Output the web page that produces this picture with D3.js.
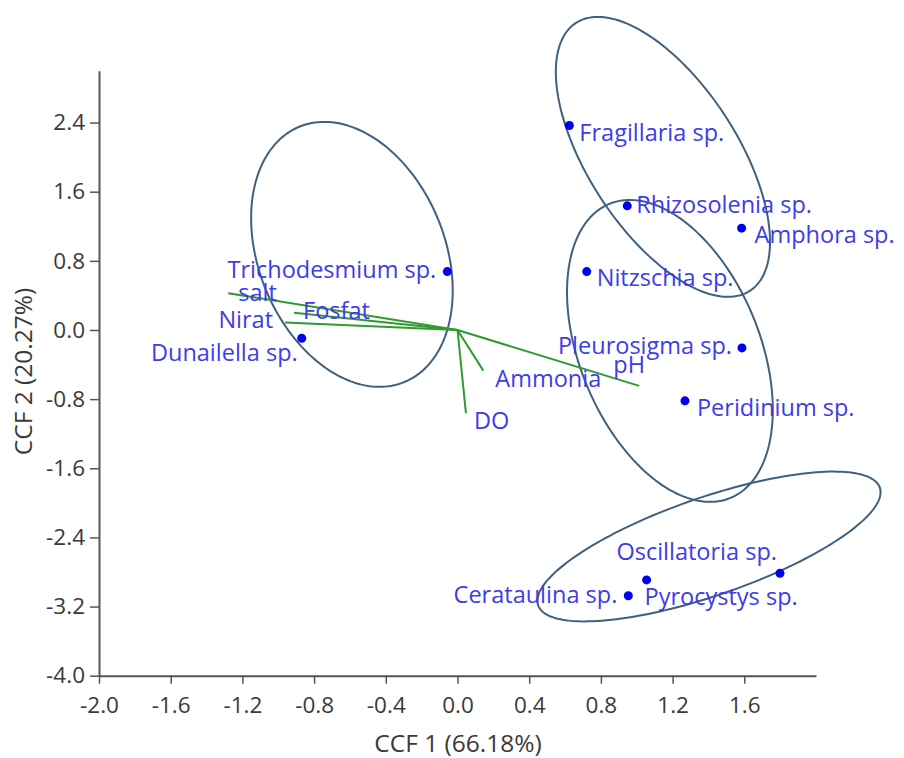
<!DOCTYPE html>
<html>
<head>
<meta charset="utf-8">
<script src="https://cdn.jsdelivr.net/npm/d3@7"></script>
<style>
  html, body { margin: 0; padding: 0; background: #fff; }
  svg { display: block; font-family: "Open Sans", "Noto Sans", sans-serif; }
</style>
</head>
<body>
<svg id="chart" width="904" height="758"></svg>
<script>
// Species scores on the first two canonical axes
const species = ["Fragillaria sp.", "Rhizosolenia sp.", "Amphora sp.", "Nitzschia sp.",
  "Trichodesmium sp.", "Dunailella sp.", "Pleurosigma sp.", "Peridinium sp.",
  "Oscillatoria sp.", "Pyrocystys sp.", "Cerataulina sp."];
const speciesCCF1 = [0.624, 0.947, 1.585, 0.721, -0.057, -0.869, 1.587, 1.269, 1.799, 1.055, 0.953];
const speciesCCF2 = [2.366, 1.436, 1.178, 0.676, 0.676, -0.095, -0.207, -0.820, -2.815, -2.892, -3.075];

// Environmental variable biplot vectors
const variables = ["salt", "Fosfat", "Nirat", "Ammonia", "DO", "pH"];
const varCCF1 = [-1.279, -0.912, -0.962, 0.144, 0.047, 1.013];
const varCCF2 = [0.426, 0.200, 0.086, -0.470, -0.963, -0.647];

// Group ellipses: centre, semi-major vector, semi-minor vector (CCF units)
const ellCentreX = [-0.589, 1.146, 1.185, 1.403];
const ellCentreY = [0.875, 2.003, -0.242, -2.505];
const ellMajorX = [0.293, 0.485, 0.338, 0.953];
const ellMajorY = [-1.477, -1.550, -1.701, 0.681];
const ellMinorX = [-0.480, -0.349, -0.464, 0.089];
const ellMinorY = [-0.410, -0.470, -0.397, -0.536];

// Axis ticks and titles
const xTicks = [-2.0, -1.6, -1.2, -0.8, -0.4, 0.0, 0.4, 0.8, 1.2, 1.6];
const yTicks = [-4.0, -3.2, -2.4, -1.6, -0.8, 0.0, 0.8, 1.6, 2.4];
const xTitle = "CCF 1 (66.18%)";
const yTitle = "CCF 2 (20.27%)";

// Label placement (pixels relative to the mark, plus anchor)
const speciesLabelPos = [
  [10, 9, "start"], [9, 1, "start"], [13, 9, "start"], [10, 8, "start"],
  [-11, 0, "end"], [-4, 17, "end"], [-10, 0, "end"], [12, 9, "start"],
  [-3, -20, "end"], [-2, 19, "start"], [-11, 1, "end"]
];
const varLabelPos = [
  [10, 2, "start"], [9, 0, "start"], [-12, -1, "end"],
  [12, 10, "start"], [8, 10, "start"], [6, -19, "end"]
];

const svg = d3.select("#chart");
const x = d3.scaleLinear().domain([-2, 2]).range([99, 816]);
const y = d3.scaleLinear().domain([-4, 3]).range([675.7, 70.7]);

const axisColor = "#555";
const textColor = "#3a3a3a";
const labelColor = "#3d3bec";
const labelSize = 23.5;

// Axes
const gx = svg.append("g").attr("transform", `translate(0,${y(-4)})`)
  .call(d3.axisBottom(x).tickValues(xTicks).tickSizeInner(8).tickSizeOuter(0)
    .tickPadding(13).tickFormat(d => d.toFixed(1)));
const gy = svg.append("g").attr("transform", `translate(${x(-2)},0)`)
  .call(d3.axisLeft(y).tickValues(yTicks).tickSizeInner(9).tickSizeOuter(0)
    .tickPadding(5).tickFormat(d => d.toFixed(1)));
[gx, gy].forEach(g => {
  g.select(".domain").attr("stroke", axisColor).attr("stroke-width", 2);
  g.selectAll(".tick line").attr("stroke", axisColor).attr("stroke-width", 1.5);
  g.selectAll(".tick text").attr("fill", textColor).attr("font-size", 22.5)
    .attr("font-family", "'Open Sans', 'Noto Sans', sans-serif");
});

svg.append("text").attr("x", 458).attr("y", 745)
  .attr("text-anchor", "middle").attr("dominant-baseline", "middle")
  .attr("fill", textColor).attr("font-size", 24.5).text(xTitle);
svg.append("text").attr("transform", `translate(25,${y(-0.48)}) rotate(-90)`)
  .attr("text-anchor", "middle").attr("dominant-baseline", "middle")
  .attr("fill", textColor).attr("font-size", 24.5).text(yTitle);

// Ellipses
const line = d3.line().x(d => x(d[0])).y(d => y(d[1])).curve(d3.curveLinearClosed);
const nSeg = 180;
ellCentreX.forEach((cx, i) => {
  const pts = d3.range(nSeg).map(k => {
    const t = 2 * Math.PI * k / nSeg;
    return [cx + Math.cos(t) * ellMajorX[i] + Math.sin(t) * ellMinorX[i],
            ellCentreY[i] + Math.cos(t) * ellMajorY[i] + Math.sin(t) * ellMinorY[i]];
  });
  svg.append("path").attr("d", line(pts)).attr("fill", "none")
    .attr("stroke", "#40607f").attr("stroke-width", 2);
});

// Biplot vectors
variables.forEach((v, i) => {
  svg.append("line").attr("x1", x(0)).attr("y1", y(0))
    .attr("x2", x(varCCF1[i])).attr("y2", y(varCCF2[i]))
    .attr("stroke", "#2f9a2f").attr("stroke-width", 2);
});

// Species points
species.forEach((s, i) => {
  svg.append("circle").attr("cx", x(speciesCCF1[i])).attr("cy", y(speciesCCF2[i]))
    .attr("r", 4.5).attr("fill", "#0000f0");
});

// Labels
variables.forEach((v, i) => {
  const p = varLabelPos[i];
  svg.append("text").attr("x", x(varCCF1[i]) + p[0]).attr("y", y(varCCF2[i]) + p[1])
    .attr("text-anchor", p[2]).attr("dominant-baseline", "middle")
    .attr("fill", labelColor).attr("font-size", labelSize).text(v);
});
species.forEach((s, i) => {
  const p = speciesLabelPos[i];
  svg.append("text").attr("x", x(speciesCCF1[i]) + p[0]).attr("y", y(speciesCCF2[i]) + p[1])
    .attr("text-anchor", p[2]).attr("dominant-baseline", "middle")
    .attr("fill", labelColor).attr("font-size", labelSize).text(s);
});
</script>
</body>
</html>
